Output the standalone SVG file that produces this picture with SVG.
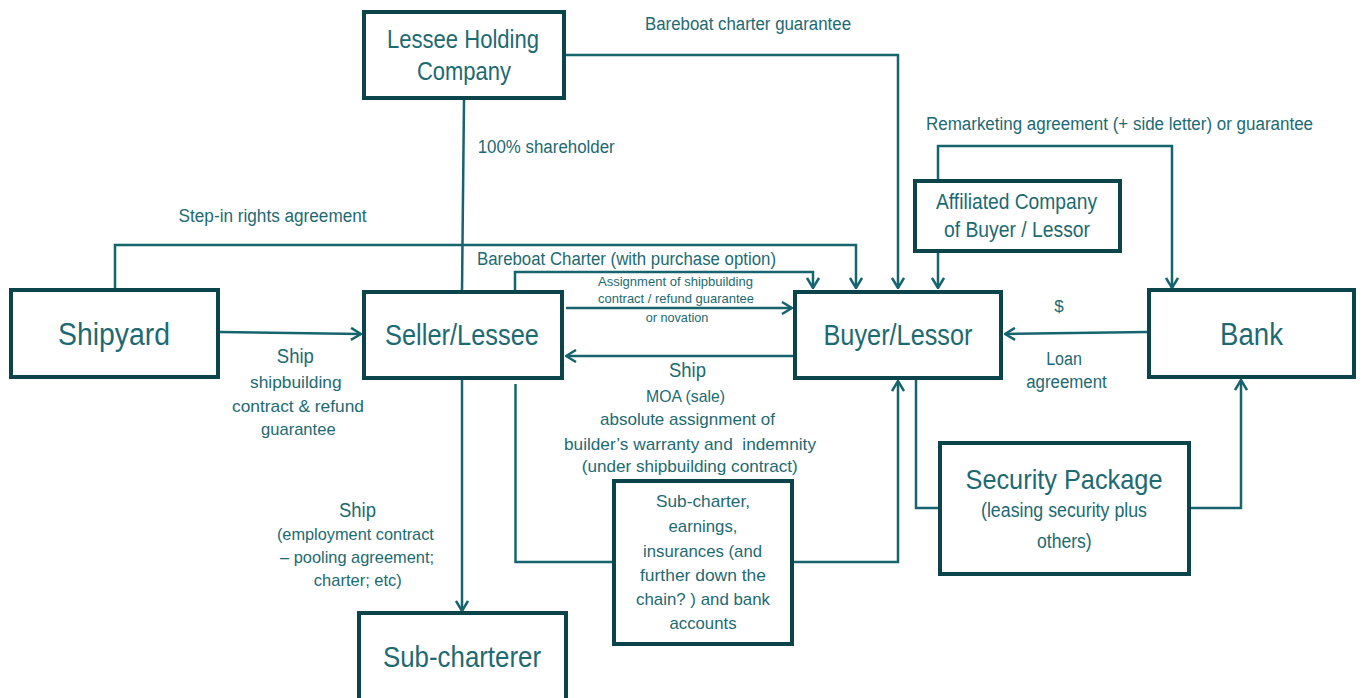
<svg xmlns="http://www.w3.org/2000/svg" width="1363" height="698" viewBox="0 0 1363 698">
<style>
.box{fill:#ffffff;stroke:#0c444c;stroke-width:4}
.ln{fill:none;stroke:#16656e;stroke-width:2.5}
text{font-family:"Liberation Sans Narrow","Liberation Sans",Arial,sans-serif;fill:#1d6a72}
.c{text-anchor:middle}
</style>
<defs>
<marker id="arr" viewBox="0 0 12 14" refX="11" refY="7" markerWidth="12" markerHeight="14" orient="auto" markerUnits="userSpaceOnUse">
<path d="M1,1 L11,7 L1,13" fill="none" stroke="#16656e" stroke-width="2.5"/>
</marker>
</defs>
<rect width="1363" height="698" fill="#ffffff"/>
<g id="connectors">
<path class="ln" d="M566,55 H898 V288" marker-end="url(#arr)"/>
<path class="ln" d="M464,100 L462,292"/>
<path class="ln" d="M115,290 V245 H856 V288" marker-end="url(#arr)"/>
<path class="ln" d="M515,290 V272 H813 V288" marker-end="url(#arr)"/>
<path class="ln" d="M566,308 H792" marker-end="url(#arr)"/>
<path class="ln" d="M795,356 H566" marker-end="url(#arr)"/>
<path class="ln" d="M219,332 L361,334" marker-end="url(#arr)"/>
<path class="ln" d="M462,379 V611" marker-end="url(#arr)"/>
<path class="ln" d="M515.5,384 V562 H612"/>
<path class="ln" d="M794,562 H898 V381" marker-end="url(#arr)"/>
<path class="ln" d="M916,379 V508 H938"/>
<path class="ln" d="M1191,508 H1241 V380" marker-end="url(#arr)"/>
<path class="ln" d="M1147,332 L1005,334" marker-end="url(#arr)"/>
<path class="ln" d="M938,181 V146 H1172 V288" marker-end="url(#arr)"/>
<path class="ln" d="M938,252 V288" marker-end="url(#arr)"/>
<text x="645" y="30" font-size="18" textLength="206" lengthAdjust="spacingAndGlyphs">Bareboat charter guarantee</text>
<text x="477.7" y="153" font-size="18" textLength="137" lengthAdjust="spacingAndGlyphs">100% shareholder</text>
<text x="178.6" y="222" font-size="18" textLength="188" lengthAdjust="spacingAndGlyphs">Step-in rights agreement</text>
<text x="926" y="130" font-size="18" textLength="387" lengthAdjust="spacingAndGlyphs">Remarketing agreement (+ side letter) or guarantee</text>
<text x="477" y="265" font-size="18" textLength="299" lengthAdjust="spacingAndGlyphs">Bareboat Charter (with purchase option)</text>
<text class="c" x="675.5" y="286" font-size="13" textLength="155" lengthAdjust="spacingAndGlyphs">Assignment of shipbuilding</text>
<text class="c" x="676" y="303" font-size="13" textLength="156" lengthAdjust="spacingAndGlyphs">contract / refund guarantee</text>
<text class="c" x="677" y="322" font-size="13" textLength="62.7" lengthAdjust="spacingAndGlyphs">or novation</text>
<text class="c" x="687.5" y="377" font-size="20" textLength="37" lengthAdjust="spacingAndGlyphs">Ship</text>
<text class="c" x="685.5" y="402" font-size="17" textLength="79" lengthAdjust="spacingAndGlyphs">MOA (sale)</text>
<text class="c" x="687.5" y="425" font-size="17" textLength="175" lengthAdjust="spacingAndGlyphs">absolute assignment of</text>
<text class="c" x="690" y="450" font-size="17" textLength="252" lengthAdjust="spacingAndGlyphs" xml:space="preserve">builder’s warranty and  indemnity</text>
<text class="c" x="689.7" y="472" font-size="17" textLength="216" lengthAdjust="spacingAndGlyphs">(under shipbuilding contract)</text>
<text class="c" x="295.3" y="363" font-size="20" textLength="37" lengthAdjust="spacingAndGlyphs">Ship</text>
<text class="c" x="295.8" y="388" font-size="17" textLength="91.5" lengthAdjust="spacingAndGlyphs">shipbuilding</text>
<text class="c" x="298" y="412" font-size="17" textLength="132" lengthAdjust="spacingAndGlyphs">contract &amp; refund</text>
<text class="c" x="298.3" y="435" font-size="17" textLength="74.6" lengthAdjust="spacingAndGlyphs">guarantee</text>
<text class="c" x="357.5" y="517" font-size="20" textLength="37" lengthAdjust="spacingAndGlyphs">Ship</text>
<text class="c" x="355.4" y="540" font-size="17" textLength="157" lengthAdjust="spacingAndGlyphs">(employment contract</text>
<text class="c" x="357" y="563" font-size="17" textLength="154" lengthAdjust="spacingAndGlyphs">– pooling agreement;</text>
<text class="c" x="357.8" y="586" font-size="17" textLength="88" lengthAdjust="spacingAndGlyphs">charter; etc)</text>
<text class="c" x="1059" y="312" font-size="17">$</text>
<text class="c" x="1064" y="365" font-size="18" textLength="35.7" lengthAdjust="spacingAndGlyphs">Loan</text>
<text class="c" x="1066.5" y="388" font-size="18" textLength="80.6" lengthAdjust="spacingAndGlyphs">agreement</text>
</g>
<g id="lessee-holding">
<rect class="box" x="364" y="12" width="200" height="86"/>
<text class="c" x="463" y="48" font-size="26" textLength="152" lengthAdjust="spacingAndGlyphs">Lessee Holding</text>
<text class="c" x="464" y="80" font-size="26" textLength="94" lengthAdjust="spacingAndGlyphs">Company</text>
</g>
<g id="shipyard">
<rect class="box" x="11" y="290" width="207" height="87"/>
<text class="c" x="114" y="345" font-size="31" textLength="112" lengthAdjust="spacingAndGlyphs">Shipyard</text>
</g>
<g id="seller-lessee">
<rect class="box" x="364" y="292" width="198" height="86"/>
<text class="c" x="462" y="345" font-size="29" textLength="154" lengthAdjust="spacingAndGlyphs">Seller/Lessee</text>
</g>
<g id="sub-charterer">
<rect class="box" x="359" y="613" width="207" height="100"/>
<text class="c" x="462" y="667" font-size="30" textLength="158" lengthAdjust="spacingAndGlyphs">Sub-charterer</text>
</g>
<g id="sub-charter">
<rect class="box" x="614" y="481" width="178" height="163"/>
<text class="c" x="703" y="507" font-size="17" textLength="94" lengthAdjust="spacingAndGlyphs">Sub-charter,</text>
<text class="c" x="703" y="532" font-size="17" textLength="69" lengthAdjust="spacingAndGlyphs">earnings,</text>
<text class="c" x="702.5" y="557" font-size="17" textLength="119" lengthAdjust="spacingAndGlyphs">insurances (and</text>
<text class="c" x="703" y="581" font-size="17" textLength="126" lengthAdjust="spacingAndGlyphs">further down the</text>
<text class="c" x="703" y="605" font-size="17" textLength="134" lengthAdjust="spacingAndGlyphs">chain? ) and bank</text>
<text class="c" x="703" y="629" font-size="17" textLength="67" lengthAdjust="spacingAndGlyphs">accounts</text>
</g>
<g id="buyer-lessor">
<rect class="box" x="795" y="292" width="206" height="86"/>
<text class="c" x="898" y="345" font-size="29" textLength="149" lengthAdjust="spacingAndGlyphs">Buyer/Lessor</text>
</g>
<g id="bank">
<rect class="box" x="1149" y="290" width="205" height="87"/>
<text class="c" x="1251.5" y="345" font-size="31" textLength="63" lengthAdjust="spacingAndGlyphs">Bank</text>
</g>
<g id="security-package">
<rect class="box" x="940" y="443" width="249" height="131"/>
<text class="c" x="1064" y="489" font-size="28" textLength="197" lengthAdjust="spacingAndGlyphs">Security Package</text>
<text class="c" x="1064" y="517" font-size="20" textLength="166" lengthAdjust="spacingAndGlyphs">(leasing security plus</text>
<text class="c" x="1064.3" y="548" font-size="20" textLength="54.6" lengthAdjust="spacingAndGlyphs">others)</text>
</g>
<g id="affiliated">
<rect class="box" x="915" y="181" width="205" height="70"/>
<text class="c" x="1016.5" y="209" font-size="22" textLength="161" lengthAdjust="spacingAndGlyphs">Affiliated Company</text>
<text class="c" x="1017" y="237" font-size="22" textLength="146" lengthAdjust="spacingAndGlyphs">of Buyer / Lessor</text>
</g>
</svg>
